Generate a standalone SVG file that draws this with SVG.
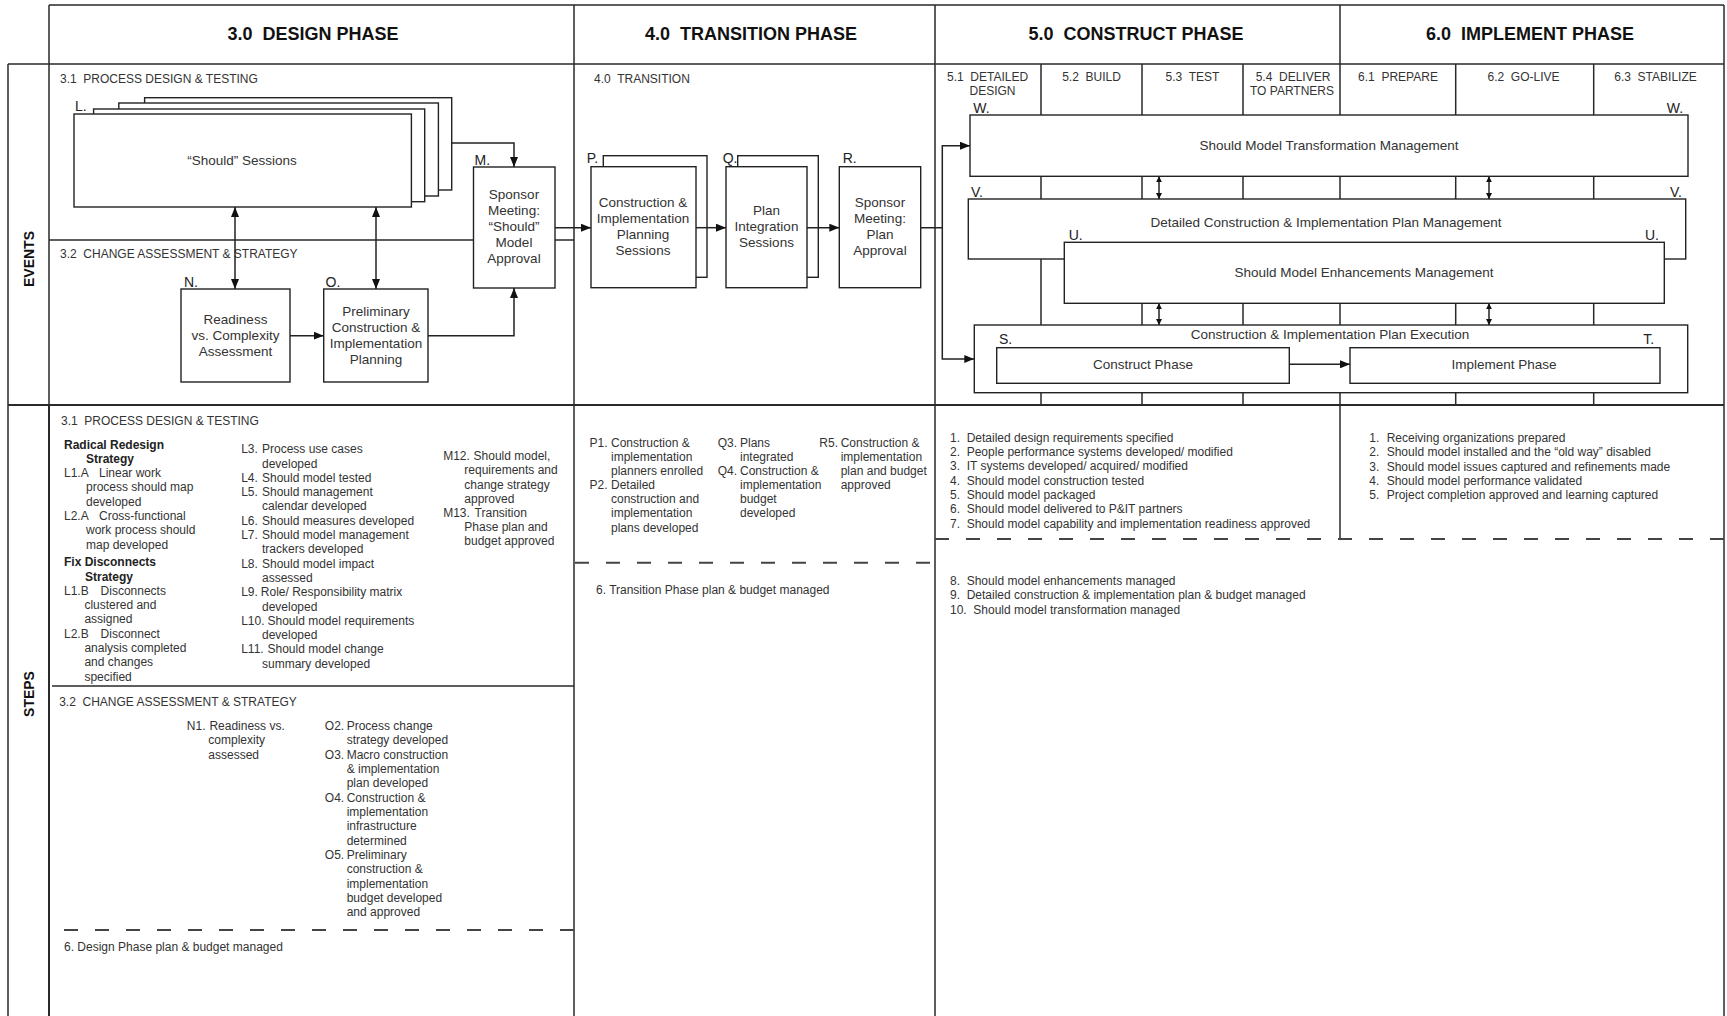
<svg xmlns="http://www.w3.org/2000/svg" width="1727" height="1016" viewBox="0 0 1727 1016">
<defs>
<style>
.f{font-family:"Liberation Sans",Arial,sans-serif}
.ln{stroke:#2a2a2a;stroke-width:1.5;fill:none}
.thk{stroke:#2a2a2a;stroke-width:2;fill:none}
.dash{stroke:#444;stroke-width:2;stroke-dasharray:14 17;fill:none}
.box{fill:#fff;stroke:#222;stroke-width:1.4}
.con{stroke:#222;stroke-width:1.5;fill:none}
.ph{font-family:"Liberation Sans",Arial,sans-serif;font-size:18px;font-weight:bold;fill:#111;text-anchor:middle}
.sec{font-family:"Liberation Sans",Arial,sans-serif;font-size:12px;fill:#333}
.mid{text-anchor:middle}
.bt{font-family:"Liberation Sans",Arial,sans-serif;font-size:13.5px;fill:#333;text-anchor:middle}
.lt{font-family:"Liberation Sans",Arial,sans-serif;font-size:14px;fill:#222}
.st{font-family:"Liberation Sans",Arial,sans-serif;font-size:12px;fill:#333}
.b{font-weight:bold;fill:#222}
.side{font-family:"Liberation Sans",Arial,sans-serif;font-size:14px;font-weight:bold;fill:#111;text-anchor:middle}
</style>
<marker id="ah" viewBox="0 0 10 8" refX="10" refY="4" markerWidth="10" markerHeight="8" markerUnits="userSpaceOnUse" orient="auto-start-reverse"><path d="M0,0L10,4L0,8z" fill="#111"/></marker>
<marker id="sh" viewBox="0 0 6 6" refX="6" refY="3" markerWidth="6" markerHeight="6" markerUnits="userSpaceOnUse" orient="auto-start-reverse"><path d="M0,0L6,3L0,6z" fill="#111"/></marker>
</defs>
<rect width="1727" height="1016" fill="#fff"/>

<g id="frame">
<path class="ln" d="M49,5H1724M8,64H1724M49,5V1016M1724,5V1016M8,64V1016M574,5V1016M935,5V1016M1340,5V539"/>
<path class="thk" d="M8,405H1724M49,405V1016"/>
<path class="ln" d="M1041,64V405M1142,64V405M1243,64V405M1455.7,64V405M1593.7,64V405"/>
<path class="ln" d="M49,240H574M52,686H574"/>
<path class="dash" d="M64,930H574M575,562.7H935M935,539H1724"/>
</g>

<g id="headers">
<text class="ph" x="313" y="40" xml:space="preserve">3.0  DESIGN PHASE</text>
<text class="ph" x="751" y="40" xml:space="preserve">4.0  TRANSITION PHASE</text>
<text class="ph" x="1136" y="40" xml:space="preserve">5.0  CONSTRUCT PHASE</text>
<text class="ph" x="1530" y="40" xml:space="preserve">6.0  IMPLEMENT PHASE</text>
<text class="side" transform="translate(34,259) rotate(-90)">EVENTS</text>
<text class="side" transform="translate(34,694) rotate(-90)">STEPS</text>
<text class="sec" x="60" y="82.5" xml:space="preserve">3.1  PROCESS DESIGN &amp; TESTING</text>
<text class="sec" x="60" y="258.3" xml:space="preserve">3.2  CHANGE ASSESSMENT &amp; STRATEGY</text>
<text class="sec" x="594" y="82.5" xml:space="preserve">4.0  TRANSITION</text>
<text class="sec" x="947" y="80.7" xml:space="preserve">5.1  DETAILED</text>
<text class="sec" x="969.5" y="95">DESIGN</text>
<text class="sec mid" x="1091.5" y="80.7" xml:space="preserve">5.2  BUILD</text>
<text class="sec mid" x="1192.5" y="80.7" xml:space="preserve">5.3  TEST</text>
<text class="sec mid" x="1293" y="80.7" xml:space="preserve">5.4  DELIVER</text>
<text class="sec mid" x="1292" y="95">TO PARTNERS</text>
<text class="sec mid" x="1398" y="80.7" xml:space="preserve">6.1  PREPARE</text>
<text class="sec mid" x="1523.5" y="80.7" xml:space="preserve">6.2  GO-LIVE</text>
<text class="sec mid" x="1655.5" y="80.7" xml:space="preserve">6.3  STABILIZE</text>
</g>

<g id="node-L">
<rect class="box" x="144.6" y="97.7" width="307.1" height="92.3"/>
<rect class="box" x="118.8" y="103" width="319.6" height="93"/>
<rect class="box" x="93.6" y="109" width="331.1" height="92.7"/>
<rect class="box" x="74" y="114" width="337.4" height="93"/>
<text class="lt" x="75" y="111">L.</text>
<text class="bt" x="242" y="165">“Should” Sessions</text>
</g>

<g id="node-M">
<rect class="box" x="473.5" y="167" width="81.5" height="121"/>
<text class="lt" x="474.6" y="165">M.</text>
<text class="bt"><tspan x="514" y="198.8">Sponsor</tspan><tspan x="514" y="214.8">Meeting:</tspan><tspan x="514" y="230.8">“Should”</tspan><tspan x="514" y="246.8">Model</tspan><tspan x="514" y="262.8">Approval</tspan></text>
</g>

<g id="node-N">
<rect class="box" x="181" y="289" width="109" height="93"/>
<text class="lt" x="184" y="287">N.</text>
<text class="bt"><tspan x="235.5" y="323.8">Readiness</tspan><tspan x="235.5" y="339.8">vs. Complexity</tspan><tspan x="235.5" y="355.8">Assessment</tspan></text>
</g>

<g id="node-O">
<rect class="box" x="323.7" y="289" width="104.3" height="93"/>
<text class="lt" x="325.6" y="287">O.</text>
<text class="bt"><tspan x="376" y="315.8">Preliminary</tspan><tspan x="376" y="331.8">Construction &amp;</tspan><tspan x="376" y="347.8">Implementation</tspan><tspan x="376" y="363.8">Planning</tspan></text>
</g>

<g id="node-P">
<rect class="box" x="603.3" y="155.7" width="103.7" height="121.6"/>
<rect class="box" x="591" y="166.7" width="105" height="121"/>
<text class="lt" x="586.7" y="162.5">P.</text>
<text class="bt"><tspan x="643" y="206.8">Construction &amp;</tspan><tspan x="643" y="222.9">Implementation</tspan><tspan x="643" y="239">Planning</tspan><tspan x="643" y="255.1">Sessions</tspan></text>
</g>

<g id="node-Q">
<rect class="box" x="737.7" y="155.7" width="80.6" height="121.6"/>
<rect class="box" x="726" y="166.7" width="81" height="121"/>
<text class="lt" x="722.7" y="162.5">Q.</text>
<text class="bt"><tspan x="766.5" y="214.8">Plan</tspan><tspan x="766.5" y="231">Integration</tspan><tspan x="766.5" y="247.2">Sessions</tspan></text>
</g>

<g id="node-R">
<rect class="box" x="839.3" y="166.7" width="81.4" height="121"/>
<text class="lt" x="842.7" y="162.5">R.</text>
<text class="bt"><tspan x="880" y="206.8">Sponsor</tspan><tspan x="880" y="222.9">Meeting:</tspan><tspan x="880" y="239">Plan</tspan><tspan x="880" y="255.1">Approval</tspan></text>
</g>

<g id="node-W">
<rect class="box" x="970" y="115" width="718" height="61.3"/>
<text class="lt" x="973.3" y="112.5">W.</text>
<text class="lt" x="1666.7" y="112.5">W.</text>
<text class="bt" x="1329" y="149.5">Should Model Transformation Management</text>
</g>

<g id="node-V">
<rect class="box" x="968.3" y="199" width="717.4" height="60"/>
<text class="lt" x="971" y="196.7">V.</text>
<text class="lt" x="1670" y="196.7">V.</text>
<text class="bt" x="1326" y="227">Detailed Construction &amp; Implementation Plan Management</text>
</g>

<g id="node-U">
<rect class="box" x="1064.3" y="242.3" width="600" height="61"/>
<text class="lt" x="1068.7" y="240">U.</text>
<text class="lt" x="1645" y="240">U.</text>
<text class="bt" x="1364" y="276.5">Should Model Enhancements Management</text>
</g>

<g id="node-exec">
<rect class="box" x="974.3" y="325" width="713.4" height="67.7"/>
<text class="bt" x="1330" y="338.8">Construction &amp; Implementation Plan Execution</text>
</g>

<g id="node-S">
<rect class="box" x="996.7" y="347.7" width="292.6" height="35.6"/>
<text class="lt" x="999" y="344.3">S.</text>
<text class="bt" x="1143" y="369">Construct Phase</text>
</g>

<g id="node-T">
<rect class="box" x="1350" y="347.7" width="310" height="35.6"/>
<text class="lt" x="1643.3" y="344.3">T.</text>
<text class="bt" x="1504" y="369">Implement Phase</text>
</g>

<g id="connectors">
<path class="con" d="M451.7,143H514V167" marker-end="url(#ah)"/>
<path class="con" d="M235,207V289" marker-start="url(#ah)" marker-end="url(#ah)"/>
<path class="con" d="M376,207V289" marker-start="url(#ah)" marker-end="url(#ah)"/>
<path class="con" d="M290,335.7H323.7" marker-end="url(#ah)"/>
<path class="con" d="M428,335.7H514V288" marker-end="url(#ah)"/>
<path class="con" d="M555,227.7H591" marker-end="url(#ah)"/>
<path class="con" d="M696,227.7H726" marker-end="url(#ah)"/>
<path class="con" d="M807,227.7H839.3" marker-end="url(#ah)"/>
<path class="con" d="M920.7,227.7H942.3V145.7H970" marker-end="url(#ah)"/>
<path class="con" d="M942.3,227.7V359H974.3" marker-end="url(#ah)"/>
<path class="con" d="M1289.3,364.3H1350" marker-end="url(#ah)"/>
<path class="con" d="M1159,176.3V199" marker-start="url(#sh)" marker-end="url(#sh)"/>
<path class="con" d="M1159,303.3V325" marker-start="url(#sh)" marker-end="url(#sh)"/>
<path class="con" d="M1489,176.3V199" marker-start="url(#sh)" marker-end="url(#sh)"/>
<path class="con" d="M1489,303.3V325" marker-start="url(#sh)" marker-end="url(#sh)"/>
</g>

<g id="steps-3-1" class="st">
<text class="sec" x="61" y="425" xml:space="preserve">3.1  PROCESS DESIGN &amp; TESTING</text>
<text class="st b" x="64" y="448.5">Radical Redesign</text>
<text class="st b" x="86" y="462.8">Strategy</text>
<text class="st" x="64" y="477.1">L1.A</text><text class="st" x="99" y="477.1">Linear work</text>
<text class="st" x="86" y="491.4">process should map</text>
<text class="st" x="86" y="505.7">developed</text>
<text class="st" x="64" y="520">L2.A</text><text class="st" x="99" y="520">Cross-functional</text>
<text class="st" x="86" y="534.3">work process should</text>
<text class="st" x="86" y="548.6">map developed</text>
<text class="st b" x="64" y="566.2">Fix Disconnects</text>
<text class="st b" x="85" y="580.5">Strategy</text>
<text class="st" x="64" y="594.8">L1.B</text><text class="st" x="100.6" y="594.8">Disconnects</text>
<text class="st" x="84.4" y="609.1">clustered and</text>
<text class="st" x="84.4" y="623.4">assigned</text>
<text class="st" x="64" y="637.7">L2.B</text><text class="st" x="100.6" y="637.7">Disconnect</text>
<text class="st" x="84.4" y="652">analysis completed</text>
<text class="st" x="84.4" y="666.3">and changes</text>
<text class="st" x="84.4" y="680.6">specified</text>

<text class="st" x="241.2" y="453.2">L3.</text><text class="st" x="262" y="453.2">Process use cases</text>
<text class="st" x="262" y="467.5">developed</text>
<text class="st" x="241.2" y="481.8">L4.</text><text class="st" x="262" y="481.8">Should model tested</text>
<text class="st" x="241.2" y="496.1">L5.</text><text class="st" x="262" y="496.1">Should management</text>
<text class="st" x="262" y="510.4">calendar developed</text>
<text class="st" x="241.2" y="524.7">L6.</text><text class="st" x="262" y="524.7">Should measures developed</text>
<text class="st" x="241.2" y="539">L7.</text><text class="st" x="262" y="539">Should model management</text>
<text class="st" x="262" y="553.3">trackers developed</text>
<text class="st" x="241.2" y="567.6">L8.</text><text class="st" x="262" y="567.6">Should model impact</text>
<text class="st" x="262" y="581.9">assessed</text>
<text class="st" x="241.2" y="596.2">L9.</text><text class="st" x="260.8" y="596.2">Role/ Responsibility matrix</text>
<text class="st" x="262" y="610.5">developed</text>
<text class="st" x="241.2" y="624.8">L10.</text><text class="st" x="267.5" y="624.8">Should model requirements</text>
<text class="st" x="262" y="639.1">developed</text>
<text class="st" x="241.2" y="653.4">L11.</text><text class="st" x="267.5" y="653.4">Should model change</text>
<text class="st" x="262" y="667.7">summary developed</text>

<text class="st" x="443.2" y="459.9">M12.</text><text class="st" x="473.6" y="459.9">Should model,</text>
<text class="st" x="464.3" y="474.2">requirements and</text>
<text class="st" x="464.3" y="488.5">change strategy</text>
<text class="st" x="464.3" y="502.9">approved</text>
<text class="st" x="443.2" y="516.9">M13.</text><text class="st" x="474.6" y="516.9">Transition</text>
<text class="st" x="464.3" y="530.9">Phase plan and</text>
<text class="st" x="464.3" y="544.9">budget approved</text>
</g>

<g id="steps-3-2">
<text class="sec" x="59.2" y="705.9" xml:space="preserve">3.2  CHANGE ASSESSMENT &amp; STRATEGY</text>
<text class="st" x="186.8" y="729.9">N1.</text><text class="st" x="209.4" y="729.9">Readiness vs.</text>
<text class="st" x="208.3" y="744.2">complexity</text>
<text class="st" x="208.3" y="758.6">assessed</text>
<text class="st" x="324.8" y="729.9">O2.</text><text class="st" x="346.7" y="729.9">Process change</text>
<text class="st" x="346.7" y="744.2">strategy developed</text>
<text class="st" x="324.8" y="758.6">O3.</text><text class="st" x="346.7" y="758.6">Macro construction</text>
<text class="st" x="346.7" y="772.9">&amp; implementation</text>
<text class="st" x="346.7" y="787.2">plan developed</text>
<text class="st" x="324.8" y="801.5">O4.</text><text class="st" x="346.7" y="801.5">Construction &amp;</text>
<text class="st" x="346.7" y="815.9">implementation</text>
<text class="st" x="346.7" y="830.2">infrastructure</text>
<text class="st" x="346.7" y="844.5">determined</text>
<text class="st" x="324.8" y="858.9">O5.</text><text class="st" x="346.7" y="858.9">Preliminary</text>
<text class="st" x="346.7" y="873.2">construction &amp;</text>
<text class="st" x="346.7" y="887.5">implementation</text>
<text class="st" x="346.7" y="901.9">budget developed</text>
<text class="st" x="346.7" y="916.2">and approved</text>
<text class="st" x="64" y="950.8">6. Design Phase plan &amp; budget managed</text>
</g>

<g id="steps-4">
<text class="st" x="589.5" y="446.9">P1.</text><text class="st" x="611" y="446.9">Construction &amp;</text>
<text class="st" x="611" y="461">implementation</text>
<text class="st" x="611" y="475.1">planners enrolled</text>
<text class="st" x="589.5" y="489.2">P2.</text><text class="st" x="611" y="489.2">Detailed</text>
<text class="st" x="611" y="503.3">construction and</text>
<text class="st" x="611" y="517.4">implementation</text>
<text class="st" x="611" y="531.5">plans developed</text>
<text class="st" x="717.7" y="446.9">Q3.</text><text class="st" x="740" y="446.9">Plans</text>
<text class="st" x="740" y="461">integrated</text>
<text class="st" x="717.7" y="475.1">Q4.</text><text class="st" x="740" y="475.1">Construction &amp;</text>
<text class="st" x="740" y="489.2">implementation</text>
<text class="st" x="740" y="503.3">budget</text>
<text class="st" x="740" y="517.4">developed</text>
<text class="st" x="819.3" y="446.9">R5.</text><text class="st" x="840.7" y="446.9">Construction &amp;</text>
<text class="st" x="840.7" y="461">implementation</text>
<text class="st" x="840.7" y="475.1">plan and budget</text>
<text class="st" x="840.7" y="489.2">approved</text>
<text class="st" x="596" y="594.2">6. Transition Phase plan &amp; budget managed</text>
</g>

<g id="steps-5">
<text class="st" x="950" y="441.9">1.</text><text class="st" x="966.7" y="441.9">Detailed design requirements specified</text>
<text class="st" x="950" y="456.2">2.</text><text class="st" x="966.7" y="456.2">People performance systems developed/ modified</text>
<text class="st" x="950" y="470.4">3.</text><text class="st" x="966.7" y="470.4">IT systems developed/ acquired/ modified</text>
<text class="st" x="950" y="484.7">4.</text><text class="st" x="966.7" y="484.7">Should model construction tested</text>
<text class="st" x="950" y="499">5.</text><text class="st" x="966.7" y="499">Should model packaged</text>
<text class="st" x="950" y="513.2">6.</text><text class="st" x="966.7" y="513.2">Should model delivered to P&amp;IT partners</text>
<text class="st" x="950" y="527.5">7.</text><text class="st" x="966.7" y="527.5">Should model capability and implementation readiness approved</text>
<text class="st" x="950" y="584.9">8.</text><text class="st" x="966.7" y="584.9">Should model enhancements managed</text>
<text class="st" x="950" y="599.2">9.</text><text class="st" x="966.7" y="599.2">Detailed construction &amp; implementation plan &amp; budget managed</text>
<text class="st" x="950" y="613.5">10.</text><text class="st" x="973.3" y="613.5">Should model transformation managed</text>
</g>

<g id="steps-6">
<text class="st" x="1369.3" y="441.9">1.</text><text class="st" x="1386.7" y="441.9">Receiving organizations prepared</text>
<text class="st" x="1369.3" y="456.2">2.</text><text class="st" x="1386.7" y="456.2">Should model installed and the “old way” disabled</text>
<text class="st" x="1369.3" y="470.5">3.</text><text class="st" x="1386.7" y="470.5">Should model issues captured and refinements made</text>
<text class="st" x="1369.3" y="484.8">4.</text><text class="st" x="1386.7" y="484.8">Should model performance validated</text>
<text class="st" x="1369.3" y="499.1">5.</text><text class="st" x="1386.7" y="499.1">Project completion approved and learning captured</text>
</g>
</svg>
